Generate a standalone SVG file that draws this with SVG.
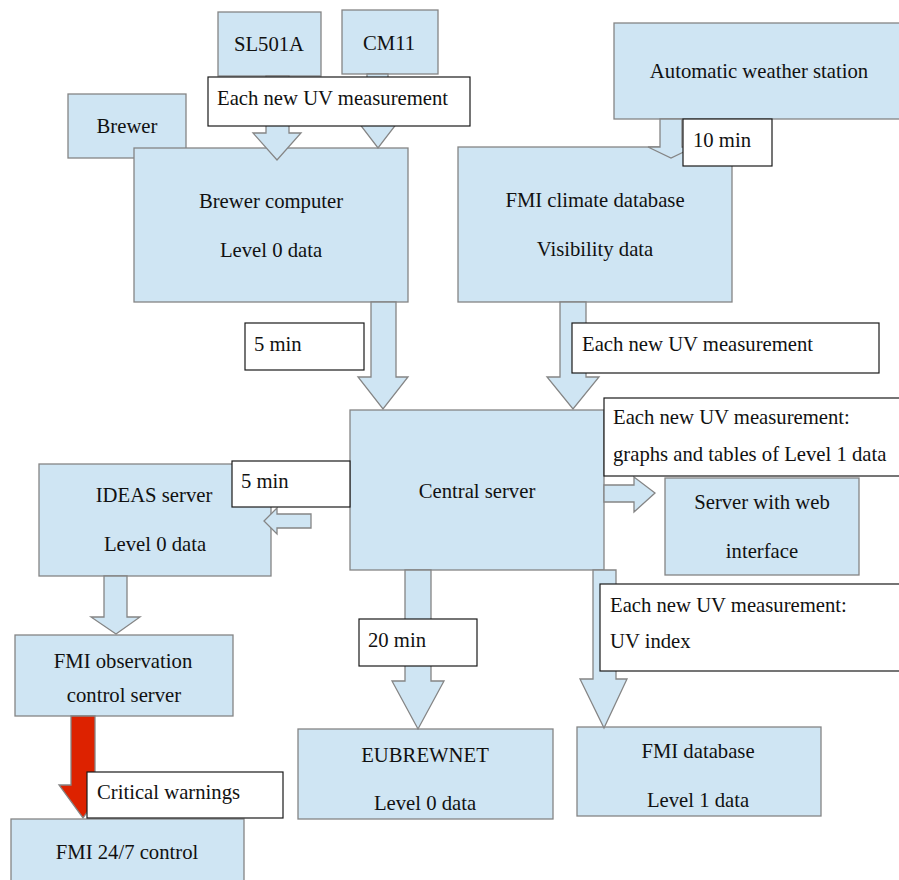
<svg xmlns="http://www.w3.org/2000/svg" width="899" height="880" viewBox="0 0 899 880" font-family="Liberation Serif, Times New Roman, DejaVu Serif, serif" font-size="20.7">
<style>
.box{fill:#cfe5f3;stroke:#858585;stroke-width:1.3}
.arr{fill:#cfe5f3;stroke:#858585;stroke-width:1.3;stroke-linejoin:miter}
.red{fill:#dd2200;stroke:#858585;stroke-width:1.3}
.lbl{fill:#ffffff;stroke:#1a1a1a;stroke-width:1.2}
text{font-family:'Liberation Serif','Times New Roman','DejaVu Serif',serif;font-size:20.7px;fill:#111}
.c{text-anchor:middle}
</style>
<rect width="899" height="880" fill="#ffffff"/>
<g id="nodes">
<g id="sl501a"><rect class="box" x="218" y="12" width="103" height="64"/><text class="c" x="269" y="51">SL501A</text></g>
<g id="cm11"><rect class="box" x="342" y="10" width="96" height="64"/><text class="c" x="389" y="50">CM11</text></g>
<g id="brewer"><rect class="box" x="68" y="94" width="118" height="64"/><text class="c" x="127" y="133">Brewer</text></g>
<g id="brewer-computer"><rect class="box" x="134" y="148" width="274" height="154"/><text class="c" x="271" y="208">Brewer computer</text><text class="c" x="271" y="257">Level 0 data</text></g>
<g id="aws"><rect class="box" x="614" y="23" width="290" height="96"/><text class="c" x="759" y="78">Automatic weather station</text></g>
<g id="fmi-climate"><rect class="box" x="458" y="147" width="274" height="155"/><text class="c" x="595" y="207">FMI climate database</text><text class="c" x="595" y="256">Visibility data</text></g>
<g id="central"><rect class="box" x="350" y="410" width="254" height="160"/><text class="c" x="477" y="498">Central server</text></g>
<g id="ideas"><rect class="box" x="39" y="464" width="232" height="112"/><text class="c" x="154" y="502">IDEAS server</text><text class="c" x="155" y="551">Level 0 data</text></g>
<g id="web"><rect class="box" x="665" y="478" width="194" height="97"/><text class="c" x="762" y="509">Server with web</text><text class="c" x="762" y="558">interface</text></g>
<g id="fmi-obs"><rect class="box" x="15" y="635" width="218" height="81"/><text class="c" x="123" y="668">FMI observation</text><text class="c" x="124" y="702">control server</text></g>
<g id="eubrewnet"><rect class="box" x="298" y="729" width="255" height="90"/><text class="c" x="425" y="762">EUBREWNET</text><text class="c" x="425" y="810">Level 0 data</text></g>
<g id="fmi-db"><rect class="box" x="577" y="727" width="244" height="89"/><text class="c" x="698" y="758">FMI database</text><text class="c" x="698" y="807">Level 1 data</text></g>
<g id="fmi-247"><rect class="box" x="11" y="819" width="233" height="70"/><text class="c" x="127" y="859">FMI 24/7 control</text></g>
</g>
<g id="connectors">
<polygon class="arr" points="266,76 289,76 289,133 301,133 277,160 253,133 266,133"/>
<polygon class="arr" points="367,74 388,74 388,118 401,118 378,148 355,118 367,118"/>
<polygon class="arr" points="660,119 682,119 682,147 694,147 671,158 648,147 660,147"/>
<polygon class="arr" points="371,302 396,302 396,377 408,377 383,409 358,377 371,377"/>
<polygon class="arr" points="560,302 586,302 586,377 599,377 573,409 547,377 560,377"/>
<polygon class="arr" points="311,514 311,528 277,528 277,534 264,521 277,508 277,514"/>
<polygon class="arr" points="604,485 634,485 634,477 655,493 634,512 634,502 604,502"/>
<polygon class="arr" points="405,570 431,570 431,681 444,681 418,729 392,681 405,681"/>
<polygon class="arr" points="593,570 616,570 616,679 627,679 604,728 580,679 593,679"/>
<polygon class="arr" points="104,576 127,576 127,617 140,617 116,634 91,617 104,617"/>
<polygon class="red" points="71,716 95,716 95,785 107,785 83,818 59,785 71,785"/>
</g>
<g id="labels">
<g id="lbl-uv1"><rect class="lbl" x="208" y="77" width="262" height="49"/><text x="217" y="105">Each new UV measurement</text></g>
<g id="lbl-10min"><rect class="lbl" x="683" y="119" width="89" height="47"/><text x="693" y="147">10 min</text></g>
<g id="lbl-5min"><rect class="lbl" x="245" y="323" width="119" height="47"/><text x="254" y="351">5 min</text></g>
<g id="lbl-uv2"><rect class="lbl" x="572" y="323" width="307" height="50"/><text x="582" y="351">Each new UV measurement</text></g>
<g id="lbl-graphs"><rect class="lbl" x="604" y="398" width="300" height="78"/><text x="613" y="424">Each new UV measurement:</text><text x="613" y="461">graphs and tables of Level 1 data</text></g>
<g id="lbl-5min2"><rect class="lbl" x="232" y="461" width="118" height="46"/><text x="241" y="488">5 min</text></g>
<g id="lbl-uvindex"><rect class="lbl" x="600" y="584" width="304" height="87"/><text x="610" y="612">Each new UV measurement:</text><text x="610" y="648">UV index</text></g>
<g id="lbl-20min"><rect class="lbl" x="359" y="619" width="118" height="47"/><text x="368" y="647">20 min</text></g>
<g id="lbl-critical"><rect class="lbl" x="87" y="772" width="196" height="46"/><text x="97" y="799">Critical warnings</text></g>
</g>
</svg>
